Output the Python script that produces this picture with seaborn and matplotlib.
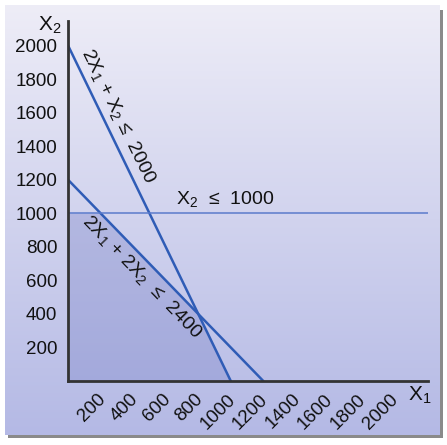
import numpy as np
import pandas as pd
import matplotlib
matplotlib.use('Agg')
import matplotlib.pyplot as plt
import matplotlib.transforms as mtransforms
from matplotlib.patches import Rectangle
import seaborn as sns

# constraint lines: a1*X1 + a2*X2 <= rhs
c1_x1 = [0, 1000]      # 2X1 + X2 <= 2000
c1_x2 = [2000, 0]
c2_x1 = [0, 1200]      # 2X1 + 2X2 <= 2400
c2_x2 = [1200, 0]
c3_x1 = [0, 2212]      # X2 <= 1000
c3_x2 = [1000, 1000]

# corner points of the feasible region
corner_x1 = [0, 0, 200, 800, 1000]
corner_x2 = [0, 1000, 1000, 400, 0]

ticks = [200, 400, 600, 800, 1000, 1200, 1400, 1600, 1800, 2000]
yticks = [200, 400, 600, 800, 1000, 1200, 1400, 1600, 1800, 2000]

sns.set_style('white')
plt.rcParams['font.family'] = ['Liberation Sans', 'DejaVu Sans']
plt.rcParams['mathtext.fontset'] = 'custom'
plt.rcParams['mathtext.rm'] = 'Liberation Sans'
plt.rcParams['mathtext.it'] = 'Liberation Sans'
plt.rcParams['mathtext.default'] = 'regular'

W, H = 447, 445
fig = plt.figure(figsize=(W / 100, H / 100), dpi=100)
fig.patch.set_facecolor('white')

# drop shadow + gradient panel
shadow = fig.add_axes([8 / W, 1 - 438 / H, 435 / W, 428 / H], zorder=-2)
shadow.set_axis_off()
shadow.add_patch(Rectangle((0, 0), 1, 1, transform=shadow.transAxes, color='#8a8a8a'))
bg = fig.add_axes([5 / W, 1 - 435 / H, 435 / W, 430 / H], zorder=-1)
top = np.array([238, 237, 247]) / 255
bot = np.array([180, 185, 229]) / 255
t = np.linspace(0, 1, 256)[:, None]
grad = top[None, :] * (1 - t) + bot[None, :] * t
bg.imshow(grad[:, None, :], aspect='auto', extent=[0, 1, 0, 1])
bg.set_axis_off()

ax = fig.add_axes([68.3 / W, 1 - 381 / H, 359.4 / W, 360.3 / H], zorder=1)
ax.patch.set_alpha(0)

ax.fill(corner_x1, corner_x2, color=(110 / 255, 120 / 255, 195 / 255), alpha=0.3, lw=0)

df = pd.DataFrame({'x1': c1_x1 + c2_x1, 'x2': c1_x2 + c2_x2,
                   'c': ['a'] * 2 + ['b'] * 2})
sns.lineplot(data=df, x='x1', y='x2', units='c', estimator=None,
             color='#2f5cb6', lw=1.8, ax=ax)
sns.lineplot(x=c3_x1, y=c3_x2, color='#5b7bcc', lw=1.1, ax=ax)

ax.set_xlim(0, 2212)
ax.set_ylim(0, 2151)
ax.set_xlabel('')
ax.set_ylabel('')

for s in ['top', 'right']:
    ax.spines[s].set_visible(False)
for s in ['left', 'bottom']:
    ax.spines[s].set_color('#333333')
    ax.spines[s].set_linewidth(2)

ax.set_xticks(ticks)
ax.set_xticklabels([str(v) for v in ticks], rotation=45, ha='right', va='top',
                   rotation_mode='anchor')
ax.set_yticks(yticks)
ax.set_yticklabels([str(v) for v in yticks])
ax.tick_params(axis='x', direction='in', length=10, width=1, color='#666666',
               pad=7, labelsize=13.5, labelcolor='#111111')
ax.tick_params(axis='y', direction='in', length=12, width=1, color='#666666',
               pad=8, labelsize=13.5, labelcolor='#111111')
# nudge the slanted labels left so they end right under the ticks
shift = mtransforms.ScaledTranslation(-4 / 100, 0, fig.dpi_scale_trans)
for lab in ax.get_xticklabels():
    lab.set_transform(lab.get_transform() + shift)

txt = dict(fontsize=14, color='#111111', ha='center', va='center')
ax.text(305, 1585, '2X$_1$ + X$_2$ ≤  2000', rotation=-64, **txt)
ax.text(453, 621, '2X$_1$ + 2X$_2$  ≤  2400', rotation=-46, **txt)
ax.text(964, 1087, 'X$_2$  ≤  1000', **txt)

fig.text(50 / W, 1 - 25 / H, 'X$_2$', fontsize=15, color='#111111', ha='center', va='center')
fig.text(420 / W, 1 - 395 / H, 'X$_1$', fontsize=15, color='#111111', ha='center', va='center')

fig.savefig('out.png', dpi=100)
